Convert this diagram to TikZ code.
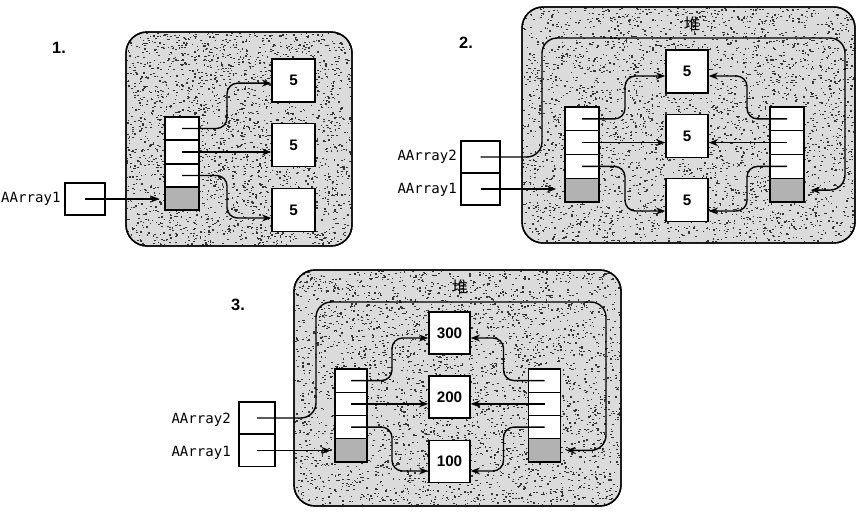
\documentclass[tikz,border=0pt]{standalone}
\usepackage{fontspec}
\setmainfont{Liberation Sans}
\newfontfamily\monof{DejaVu Sans Mono}
\newfontfamily\cjk{Noto Sans CJK SC}
\usetikzlibrary{arrows.meta}
\tikzset{
  heapbg/.style={draw, line width=1.2pt, rounded corners=18pt, fill=gray!28},
  cell/.style={draw, fill=white, inner sep=0pt, line width=1.1pt},
  lastcell/.style={cell, fill=gray!60},
  valbox/.style={draw, fill=white, inner sep=0pt, line width=1.2pt, font=\fontsize{13}{13}\selectfont\bfseries},
  refbox/.style={draw, fill=white, inner sep=0pt, line width=1.0pt},
  reflabel/.style={inner sep=0pt, font=\monof\fontsize{12}{13}\selectfont},
  steplabel/.style={inner sep=0pt, font=\fontsize{14}{14}\selectfont\bfseries},
  heaplabel/.style={inner sep=0pt, font=\cjk\fontsize{14}{14}\selectfont},
  ptr/.style={line width=1.2pt, -{Stealth[length=8pt,width=6pt]}, rounded corners=9pt},
  loopline/.style={line width=1.2pt, -{Stealth[length=8pt,width=6pt]}, rounded corners=13pt}
}
\newcommand\stipple[5]{%
  \begin{scope}
    \clip[rounded corners=18pt] (#1,#2) rectangle (#3,#4);
    \foreach \k in {1,...,#5}{%
      \pgfmathsetmacro\sx{#1+rnd*(#3-#1)}%
      \pgfmathsetmacro\sy{#2+rnd*(#4-#2)}%
      \fill[black!80] (\sx,\sy) rectangle ++(1.6,1.2);
    }
  \end{scope}}
\begin{document}
\begin{tikzpicture}[x=0.03cm, y=-0.03cm]
\pgfmathsetseed{7}
\useasboundingbox (0,0) rectangle (865,513);

% ================= Panel 1 =================
\node[steplabel] (s1) at (59,48) {1.};
\draw[heapbg] (126,32) rectangle (352,246);
\stipple{126}{32}{352}{246}{2600}
\draw[line width=1.2pt, rounded corners=18pt] (126,32) rectangle (352,246);
\foreach \i/\y in {1/128.5,2/152,3/175.5}
  \node[cell, minimum width=1.02cm, minimum height=0.69cm] (p1c\i) at (182,\y) {};
\node[lastcell, minimum width=1.02cm, minimum height=0.69cm] (p1c4) at (182,198.5) {};
\foreach \i/\y in {1/80.5,2/145,3/210}
  \node[valbox, minimum width=1.29cm, minimum height=1.29cm] (p1v\i) at (293.5,\y) {5};
\node[refbox, minimum width=1.2cm, minimum height=0.96cm] (p1a1) at (85,199) {};
\node[reflabel, anchor=west] (p1l1) at (1,199) {AArray1};
\draw[ptr] (p1c1.center) -- ++(45,0) |- ([yshift=-0.08cm]p1v1.west);
\draw[ptr] (p1c2.center) -- (p1c2.center -| p1v2.west);
\draw[ptr] (p1c3.center) -- ++(45,0) |- ([yshift=-0.24cm]p1v3.west);
\draw[ptr, shorten >=4pt] (p1a1.center) -- (p1a1.center -| p1c4.west);

% ================= Panel 2 =================
\node[steplabel] (s2) at (466,43) {2.};
\draw[heapbg] (522,7) rectangle (855,243);
\stipple{522}{7}{855}{243}{3600}
\draw[line width=1.2pt, rounded corners=18pt] (522,7) rectangle (855,243);
\node[heaplabel] (h2) at (692,24) {堆};
\foreach \i/\y in {1/118.9,2/142.6,3/166.4}{
  \node[cell, minimum width=1.02cm, minimum height=0.71cm] (p2l\i) at (582,\y) {};
  \node[cell, minimum width=1.02cm, minimum height=0.71cm] (p2r\i) at (787,\y) {};
}
\node[lastcell, minimum width=1.02cm, minimum height=0.71cm] (p2l4) at (582,190.1) {};
\node[lastcell, minimum width=1.02cm, minimum height=0.71cm] (p2r4) at (787,190.1) {};
\foreach \i/\y in {1/71.5,2/136,3/200}
  \node[valbox, minimum width=1.26cm, minimum height=1.29cm] (p2v\i) at (687,\y) {5};
\node[refbox, minimum width=1.17cm, minimum height=0.96cm] (p2a2) at (480.5,157) {};
\node[refbox, minimum width=1.17cm, minimum height=0.96cm] (p2a1) at (480.5,189) {};
\node[reflabel, anchor=east] (p2n2) at (457,157) {AArray2};
\node[reflabel, anchor=east] (p2n1) at (457,190) {AArray1};
\coordinate (p2tl) at (542,38);
\coordinate (p2tr) at (845,38);
\draw[ptr] (p2l1.center) -- ++(43,0) |- ([yshift=-0.135cm]p2v1.west);
\draw[ptr] (p2l2.center) -- (p2l2.center -| p2v2.west);
\draw[ptr] (p2l3.center) -- ++(43,0) |- ([yshift=-0.33cm]p2v3.west);
\draw[ptr] (p2r1.center) -- ++(-40,0) |- ([yshift=-0.135cm]p2v1.east);
\draw[ptr] (p2r2.center) -- (p2r2.center -| p2v2.east);
\draw[ptr] (p2r3.center) -- ++(-40,0) |- ([yshift=-0.33cm]p2v3.east);
\draw[ptr, shorten >=7pt] (p2a1.center) -- (p2a1.center -| p2l4.west);
\draw[loopline] (p2a2.center) -| (p2tl) -- (p2tr) |- ([xshift=0.18cm]p2r4.east);

% ================= Panel 3 =================
\node[steplabel] (s3) at (238,305) {3.};
\draw[heapbg] (294,270) rectangle (621,506);
\stipple{294}{270}{621}{506}{3600}
\draw[line width=1.2pt, rounded corners=18pt] (294,270) rectangle (621,506);
\node[heaplabel] (h3) at (460,287) {堆};
\foreach \i/\y in {1/380.6,2/403.9,3/427.1}{
  \node[cell, minimum width=0.96cm, minimum height=0.70cm] (p3l\i) at (351,\y) {};
  \node[cell, minimum width=0.96cm, minimum height=0.70cm] (p3r\i) at (544.5,\y) {};
}
\node[lastcell, minimum width=0.96cm, minimum height=0.70cm] (p3l4) at (351,450.4) {};
\node[lastcell, minimum width=0.96cm, minimum height=0.70cm] (p3r4) at (544.5,450.4) {};
\node[valbox, minimum width=1.23cm, minimum height=1.26cm] (p3v1) at (449.5,333) {300};
\node[valbox, minimum width=1.23cm, minimum height=1.26cm] (p3v2) at (449.5,397) {200};
\node[valbox, minimum width=1.23cm, minimum height=1.26cm] (p3v3) at (449.5,461.5) {100};
\node[refbox, minimum width=1.08cm, minimum height=0.96cm] (p3a2) at (257,418) {};
\node[refbox, minimum width=1.08cm, minimum height=0.96cm] (p3a1) at (257,450.5) {};
\node[reflabel, anchor=east] (p3n2) at (231,420) {AArray2};
\node[reflabel, anchor=east] (p3n1) at (231,453) {AArray1};
\coordinate (p3tl) at (316,302);
\coordinate (p3tr) at (606,302);
\draw[ptr] (p3l1.center) -- ++(41,0) |- ([yshift=-0.15cm]p3v1.west);
\draw[ptr] (p3l2.center) -- (p3l2.center -| p3v2.west);
\draw[ptr] (p3l3.center) -- ++(41,0) |- ([yshift=-0.285cm]p3v3.west);
\draw[ptr] (p3r1.center) -- ++(-41,0) |- ([yshift=-0.15cm]p3v1.east);
\draw[ptr] (p3r2.center) -- (p3r2.center -| p3v2.east);
\draw[ptr] (p3r3.center) -- ++(-41,0) |- ([yshift=-0.285cm]p3v3.east);
\draw[ptr, shorten >=3pt] (p3a1.center) -- (p3a1.center -| p3l4.west);
\draw[loopline] (p3a2.center) -| (p3tl) -- (p3tr) |- ([xshift=0.15cm]p3r4.east);
\end{tikzpicture}
\end{document}
